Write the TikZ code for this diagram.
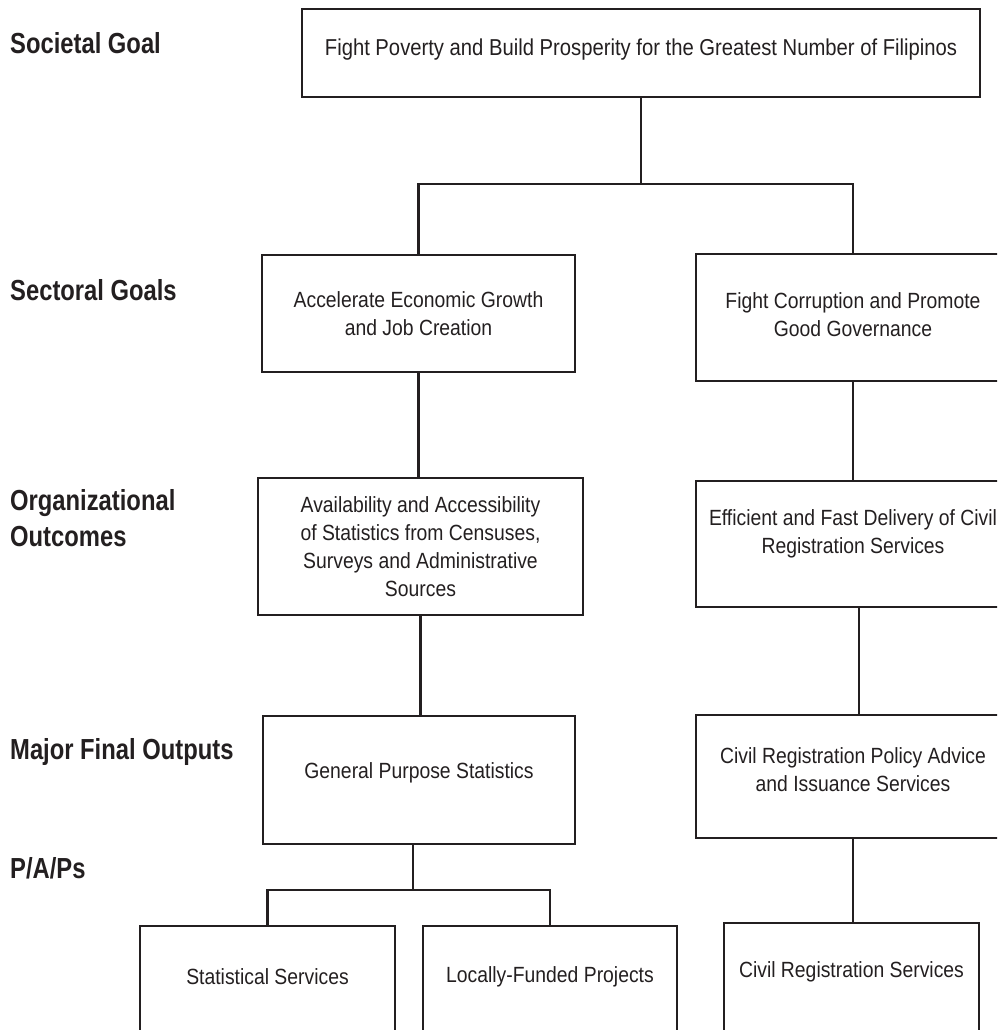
\documentclass[tikz,border=0pt]{standalone}
\usepackage{fontspec}
\setmainfont{Liberation Sans}[FakeStretch=0.88]
\newfontfamily\levelfont{Liberation Sans}[FakeStretch=0.82]
\usetikzlibrary{positioning}
\definecolor{INK}{RGB}{35,31,32}

\begin{document}
\begin{tikzpicture}[x=1pt, y=-1pt,
  box/.style={draw=INK, line width=2.2pt, align=center, text=INK,
              font=\fontsize{22}{28}\selectfont, inner sep=0pt},
  thinbox/.style={box, line width=1.3pt},
  lift/.style={text depth=#1},
  level/.style={anchor=west, align=left, inner sep=0pt, text=INK,
                font=\levelfont\fontsize{29}{36}\selectfont\bfseries},
  link/.style={draw=INK, line width=2.2pt}
]
\useasboundingbox (0,0) rectangle (997,1030);
\clip (0,0) rectangle (997,1030);

% Row labels
\node[level] (lblSoc) at (10,43) {Societal Goal};
\node[level] (lblSec) at (10,290) {Sectoral Goals};
\node[level] (lblOrg) at (10,518) {Organizational\\Outcomes};
\node[level] (lblMfo) at (10,752) {Major Final Outputs};
\node[level] (lblPap) at (10,868) {P/A/Ps};

% Societal goal
\node[box, lift=12.6pt, font=\fontsize{23}{28}\selectfont,
      minimum width=678pt, minimum height=88pt] (goal) at (641,53)
  {Fight Poverty and Build Prosperity for the Greatest Number of Filipinos};

% Sectoral goals
\node[box, minimum width=313pt, minimum height=117pt] (secEcon) at (418.5,313.5)
  {Accelerate Economic Growth\\and Job Creation};
\node[box, lift=5pt, minimum width=314pt, minimum height=127pt] (secGov) at (853,317.5)
  {Fight Corruption and Promote\\Good Governance};

% Organizational outcomes
\node[thinbox, minimum width=325pt, minimum height=137pt] (orgStat) at (420.5,546.5)
  {Availability and Accessibility\\of Statistics from Censuses,\\
   Surveys and Administrative\\Sources};
\node[box, lift=24.6pt, minimum width=314pt, minimum height=126pt] (orgCivil) at (853,544)
  {Efficient and Fast Delivery of Civil\\Registration Services};

% Major final outputs
\node[box, lift=18.6pt, minimum width=312pt, minimum height=128pt] (mfoStat) at (419,780)
  {General Purpose Statistics};
\node[box, lift=13pt, minimum width=314pt, minimum height=123pt] (mfoCivil) at (853,776.5)
  {Civil Registration Policy Advice\\and Issuance Services};

% P/A/Ps
\node[box, lift=10pt, minimum width=255pt, minimum height=112pt] (papStat) at (267.5,982)
  {Statistical Services};
\node[box, lift=14.6pt, minimum width=254pt, minimum height=112pt] (papLocal) at (550,982)
  {Locally-Funded Projects};
\node[box, lift=21.6pt, minimum width=255pt, minimum height=115pt] (papCivil) at (851.5,980.5)
  {Civil Registration Services};

% Connectors
\coordinate (hubTop) at (641,184);
\coordinate (hubPap) at (413,890);
\draw[link] (goal.south) -- (hubTop);
\draw[link] (secEcon.north) |- (hubTop) -| (secGov.north);
\draw[link] (secEcon.south) -- (secEcon.south |- orgStat.north);
\draw[link] (orgStat.south) -- (orgStat.south |- mfoStat.north);
\draw[link] (mfoStat.south -| hubPap) -- (hubPap);
\draw[link] (papStat.north) |- (hubPap) -| (papLocal.north);
\draw[link] (secGov.south) -- (orgCivil.north);
\draw[link] ([xshift=6pt]orgCivil.south) -- ([xshift=6pt]mfoCivil.north);
\draw[link] (mfoCivil.south) -- (mfoCivil.south |- papCivil.north);
\end{tikzpicture}
\end{document}
